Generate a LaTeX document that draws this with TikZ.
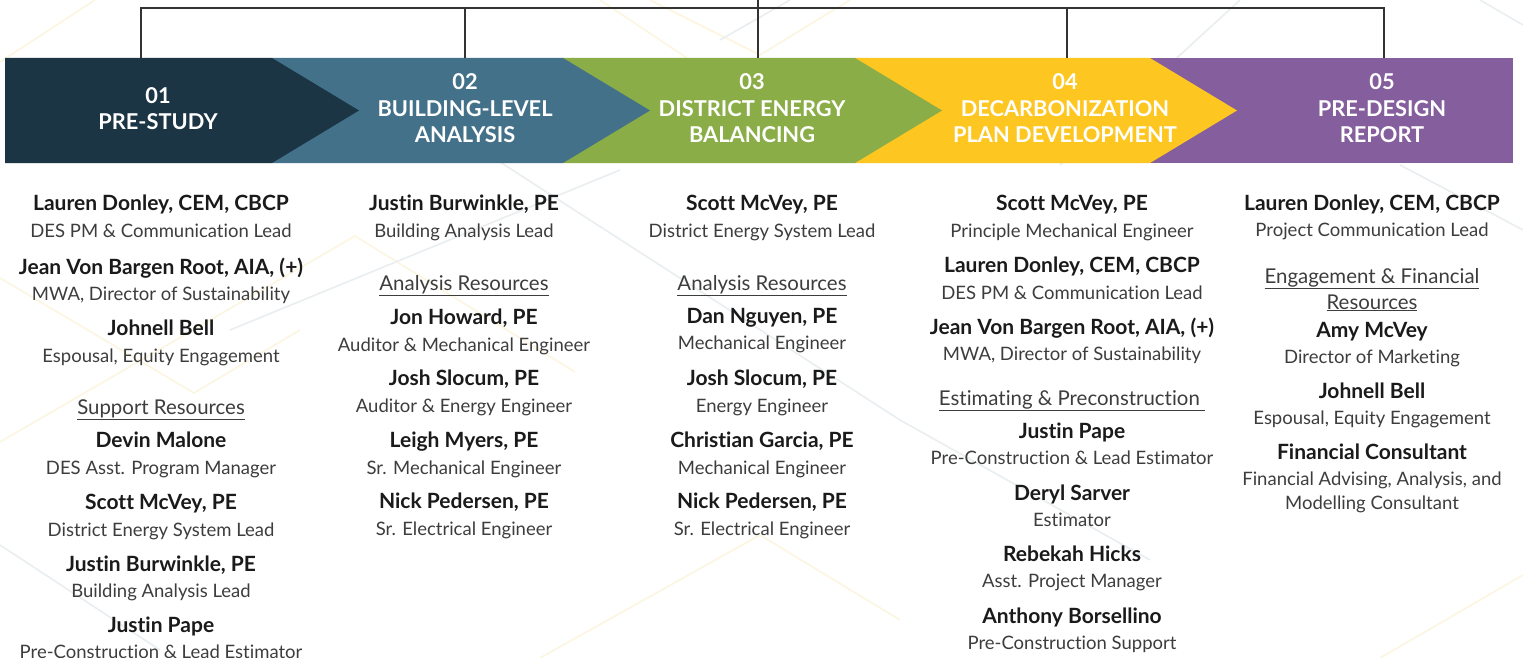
\documentclass[tikz,border=0pt]{standalone}
\usepackage{fontspec}
\setmainfont{Lato}[Ligatures=NoCommon]
\usepackage{tikz}
\RequirePackage{xcolor}

\definecolor{navyc}{HTML}{1B3545}
\definecolor{bluec}{HTML}{43718A}
\definecolor{greenc}{HTML}{8AAD47}
\definecolor{yellowc}{HTML}{FDC621}
\definecolor{purplec}{HTML}{855E9D}
\definecolor{namec}{HTML}{1A1A1A}
\definecolor{rolec}{HTML}{3D3D3D}
\definecolor{bgyel}{HTML}{FCF6E0}
\definecolor{bgblu}{HTML}{E9EEF1}

\tikzset{
  nm/.style = {font=\bfseries\fontsize{21}{24}\selectfont, text=namec, inner sep=0pt},
  rl/.style = {font=\fontsize{18.5}{22}\selectfont, text=rolec, inner sep=0pt},
  hd/.style = {font=\fontsize{20.4}{24}\selectfont, text=rolec, inner sep=0pt},
  phase/.style = {font=\bfseries\fontsize{21.8}{26.5}\selectfont, text=white, align=center},
  bus/.style = {draw=black!80, line width=1.4pt}
}

\begin{document}
\begin{tikzpicture}[x=1pt, y=-1pt]
  \useasboundingbox (0,0) rectangle (1523,658);
  \fill[white] (0,0) rectangle (1523,658);

  % faint background pattern
  \begin{scope}[line width=1.6pt]
    \draw[bgyel] (0,62) -- (95,0);
    \draw[bgyel] (600,0) -- (765,110);
    \draw[bgyel] (0,442) -- (355,236) -- (575,372);
    \draw[bgyel] (0,278) -- (194,393) -- (300,330);
    \draw[bgyel] (650,0) -- (760,55) -- (850,0);
    \draw[bgyel] (540,658) -- (760,535) -- (900,620);
    \draw[bgyel] (1380,658) -- (1523,575);
    \draw[bgblu] (500,162) -- (900,420) -- (1150,560);
    \draw[bgblu] (720,40) -- (790,0);
    \draw[bgblu] (0,545) -- (160,650);
    \draw[bgblu] (230,330) -- (620,170);
    \draw[bgblu] (1060,165) -- (1240,0);
    \draw[bgblu] (1400,165) -- (1523,230);
    \draw[bgblu] (1480,0) -- (1523,25);
  \end{scope}

  % phase banner, right to left so every chevron overlaps the next one
  \fill[purplec] (1150,58) rectangle (1513,163);
  \foreach \l/\r/\c in {855/1150/yellowc, 563/855/greenc, 272/563/bluec, 5/272/navyc}
    \fill[\c] (\l,58) -- (\r,58) -- (\r+87,110.5) -- (\r,163) -- (\l,163) -- cycle;

  \node[phase] (p1) at (158,108.5) {01\\PRE-STUDY};
  \node[phase] (p2) at (465,108.5) {02\\BUILDING-LEVEL\\ANALYSIS};
  \node[phase] (p3) at (752,108.5) {03\\DISTRICT ENERGY\\BALANCING};
  \node[phase] (p4) at (1065,108.5) {04\\DECARBONIZATION\\PLAN DEVELOPMENT};
  \node[phase] (p5) at (1382,108.5) {05\\PRE-DESIGN\\REPORT};

  % connectors
  \coordinate (root) at (758,0);
  \coordinate (hub) at (758,8);
  \foreach \i/\x in {1/141, 2/465, 3/758, 4/1067, 5/1384}
    \coordinate (t\i) at (\x,58);
  \draw[bus] (root) -- (hub);
  \foreach \i in {1,...,5}
    \draw[bus] (t\i) |- (hub);

  % team lists
  \foreach [count=\i] \t/\y/\s in {
      {Lauren Donley, CEM, CBCP}/203/nm, {DES PM \& Communication Lead}/230/rl,
      {Jean Von Bargen Root, AIA, (+)}/267/nm, {MWA, Director of Sustainability}/293/rl,
      {Johnell Bell}/328/nm, {Espousal, Equity Engagement}/355/rl,
      {\underline{Support Resources}}/407/hd,
      {Devin Malone}/440/nm, {DES Asst. Program Manager}/467/rl,
      {Scott McVey, PE}/502/nm, {District Energy System Lead}/529/rl,
      {Justin Burwinkle, PE}/564/nm, {Building Analysis Lead}/590/rl,
      {Justin Pape}/625/nm, {Pre-Construction \& Lead Estimator}/651/rl}
    \node[\s, anchor=base] (a\i) at (161,\y+7) {\t};

  \foreach [count=\i] \t/\y/\s in {
      {Justin Burwinkle, PE}/203/nm, {Building Analysis Lead}/230/rl,
      {\underline{Analysis Resources}}/283/hd,
      {Jon Howard, PE}/317/nm, {Auditor \& Mechanical Engineer}/344/rl,
      {Josh Slocum, PE}/378/nm, {Auditor \& Energy Engineer}/405/rl,
      {Leigh Myers, PE}/440/nm, {Sr. Mechanical Engineer}/467/rl,
      {Nick Pedersen, PE}/501/nm, {Sr. Electrical Engineer}/528/rl}
    \node[\s, anchor=base] (b\i) at (464,\y+7) {\t};

  \foreach [count=\i] \t/\y/\s in {
      {Scott McVey, PE}/203/nm, {District Energy System Lead}/230/rl,
      {\underline{Analysis Resources}}/283/hd,
      {Dan Nguyen, PE}/316/nm, {Mechanical Engineer}/342/rl,
      {Josh Slocum, PE}/378/nm, {Energy Engineer}/405/rl,
      {Christian Garcia, PE}/440/nm, {Mechanical Engineer}/467/rl,
      {Nick Pedersen, PE}/501/nm, {Sr. Electrical Engineer}/528/rl}
    \node[\s, anchor=base] (c\i) at (762,\y+7) {\t};

  \foreach [count=\i] \t/\y/\s in {
      {Scott McVey, PE}/203/nm, {Principle Mechanical Engineer}/230/rl,
      {Lauren Donley, CEM, CBCP}/265/nm, {DES PM \& Communication Lead}/292/rl,
      {Jean Von Bargen Root, AIA, (+)}/327/nm, {MWA, Director of Sustainability}/353/rl,
      {\underline{Estimating \& Preconstruction\ }}/398/hd,
      {Justin Pape}/431/nm, {Pre-Construction \& Lead Estimator}/457/rl,
      {Deryl Sarver}/493/nm, {Estimator}/519/rl,
      {Rebekah Hicks}/554/nm, {Asst. Project Manager}/580/rl,
      {Anthony Borsellino}/616/nm, {Pre-Construction Support}/642/rl}
    \node[\s, anchor=base] (d\i) at (1072,\y+7) {\t};

  \foreach [count=\i] \t/\y/\s in {
      {Lauren Donley, CEM, CBCP}/203/nm, {Project Communication Lead}/229/rl,
      {\underline{Engagement \& Financial}}/276/hd, {\underline{Resources}}/302/hd,
      {Amy McVey}/330/nm, {Director of Marketing}/356/rl,
      {Johnell Bell}/391/nm, {Espousal, Equity Engagement}/417/rl,
      {Financial Consultant}/452/nm, {Financial Advising, Analysis, and}/478/rl,
      {Modelling Consultant}/502/rl}
    \node[\s, anchor=base] (e\i) at (1372,\y+7) {\t};
\end{tikzpicture}
\end{document}
